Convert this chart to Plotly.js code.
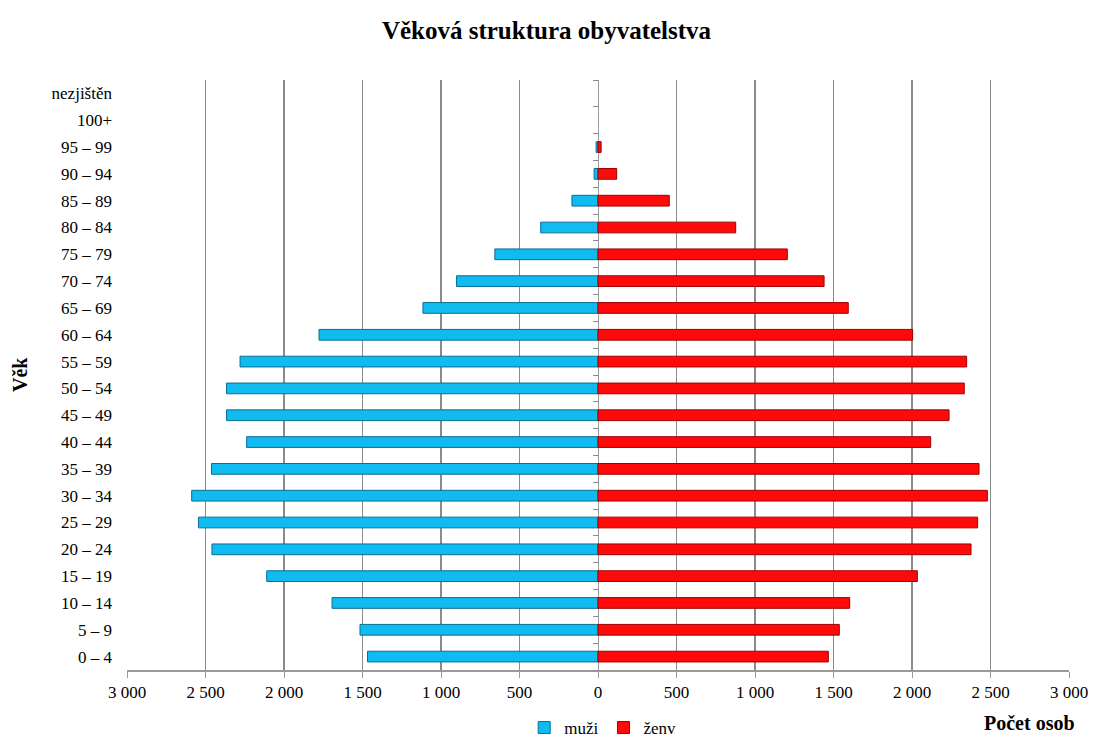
<!DOCTYPE html>
<html>
<head>
<meta charset="utf-8">
<script src="https://cdn.plot.ly/plotly-3.0.1.min.js"></script>
<style>html,body{margin:0;padding:0;background:#fff;}#chart{width:1093px;height:742px;}</style>
</head>
<body>
<div id="chart"></div>
<script>
// Categories bottom to top
const ageGroups = ["0 – 4","5 – 9","10 – 14","15 – 19","20 – 24","25 – 29","30 – 34","35 – 39","40 – 44","45 – 49","50 – 54","55 – 59","60 – 64","65 – 69","70 – 74","75 – 79","80 – 84","85 – 89","90 – 94","95 – 99","100+","nezjištěn"];
const muzi = [1468,1516,1694,2110,2459,2545,2588,2462,2238,2366,2366,2280,1777,1115,901,657,365,166,25,12,0,0];
const zeny = [1467,1537,1603,2034,2376,2418,2480,2427,2119,2236,2333,2348,2004,1594,1440,1206,877,454,119,20,0,0];
const tickValues = [-3000,-2500,-2000,-1500,-1000,-500,0,500,1000,1500,2000,2500,3000];

const fmt = v => { const a = Math.abs(v); return a >= 1000 ? Math.floor(a/1000) + "\u00a0" + String(a%1000).padStart(3,"0") : String(a); };
const tickLabels = tickValues.map(fmt);
const muziNeg = muzi.map(v => -v);
const lineW = arr => arr.map(v => v === 0 ? 0 : 1);

const serif = "'Liberation Serif', 'Times New Roman', serif";

const traces = [
  {type:"bar", orientation:"h", name:"muži", y:ageGroups, x:muziNeg, yaxis:"y", width:0.4,
   marker:{color:"#10bbef", line:{color:"#0a6f96", width:lineW(muzi)}},
   customdata: muzi, hovertemplate:"%{y}: %{customdata}<extra>muži</extra>"},
  {type:"bar", orientation:"h", name:"ženv", y:ageGroups, x:zeny, yaxis:"y2", width:0.4,
   marker:{color:"#ff0a0a", line:{color:"#a00000", width:lineW(zeny)}},
   hovertemplate:"%{y}: %{x}<extra>ženv</extra>"}
];

const layout = {
  width:1093, height:742,
  margin:{l:127, r:24, t:80, b:72, autoexpand:false},
  paper_bgcolor:"#fff", plot_bgcolor:"#fff",
  font:{family:serif, size:17, color:"#000"},
  title:{text:"<b>Věková struktura obyvatelstva</b>", font:{family:serif, size:25, color:"#000"}, x:0.5, xref:"container", xanchor:"center", y:1-30/742, yref:"container", yanchor:"middle"},
  barmode:"overlay",
  showlegend:true,
  legend:{orientation:"h", x:0.505, xanchor:"center", y:-58/590, yanchor:"middle", font:{family:serif, size:17, color:"#000"}, itemwidth:30, tracegroupgap:0, traceorder:"normal"},
  xaxis:{range:[-3000,3000], tickmode:"array", tickvals:tickValues, ticktext:tickLabels, automargin:false,
    showgrid:true, gridcolor:"#8c8c8c", gridwidth:1.5,
    zeroline:true, zerolinecolor:"#9a9a9a", zerolinewidth:1,
    showline:true, linecolor:"#9a9a9a", linewidth:1.5, ticks:"outside", ticklen:6, tickcolor:"#9a9a9a",
    tickfont:{family:serif, size:17, color:"#000"}, fixedrange:true},
  yaxis:{type:"category", categoryorder:"array", categoryarray:ageGroups, range:[-0.5, ageGroups.length-0.5], automargin:false,
    showgrid:false, zeroline:false, showline:false, ticks:"", ticklabelstandoff:14,
    tickfont:{family:serif, size:17, color:"#000"}, fixedrange:true},
  yaxis2:{type:"category", categoryorder:"array", categoryarray:ageGroups, range:[-0.5, ageGroups.length-0.5], automargin:false,
    overlaying:"y", anchor:"free", position:0.5, side:"left",
    showticklabels:false, showgrid:false, zeroline:false, showline:false,
    ticks:"outside", tickson:"boundaries", ticklen:5, tickcolor:"#8c8c8c", fixedrange:true},
  annotations:[
    {text:"<b>Věk</b>", xref:"paper", yref:"paper", x:-107/942, y:0.5, xanchor:"center", yanchor:"middle", textangle:-90, showarrow:false, font:{family:serif, size:20, color:"#000"}},
    {text:"<b>Počet osob</b>", xref:"paper", yref:"paper", x:1.009, y:-53/590, xanchor:"right", yanchor:"middle", showarrow:false, font:{family:serif, size:20, color:"#000"}}
  ]
};

Plotly.newPlot("chart", traces, layout, {displayModeBar:false, staticPlot:true});
</script>
</body>
</html>
